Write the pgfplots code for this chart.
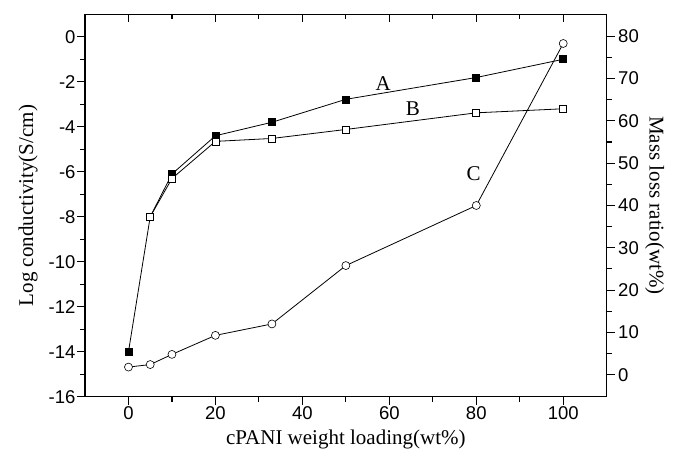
\documentclass[border=0pt]{standalone}
\usepackage{fontspec}
\setmainfont{Liberation Serif}
\newfontfamily\arial{Liberation Sans}
\usepackage{pgfplots}
\pgfplotsset{compat=1.18}

\newcommand\titlefont{\fontsize{21}{21}\selectfont}
\pgfplotsset{
  common/.style={
    scale only axis, width=521.7pt, height=382.4pt,
    xmin=-10, xmax=110,
    axis line style={-, line width=1.3pt},
    tick style={line width=1.1pt, black},
    major tick length=8pt, minor tick length=5pt,
    ticklabel style={font=\arial\fontsize{18.5}{18.5}\selectfont},
    /pgf/number format/assume math mode=true,
  },
}

\begin{document}
\begin{tikzpicture}
% left axis: conductivity (A, B)
\begin{axis}[common,
  axis x line*=bottom, axis y line*=left, tick align=outside,
  ymin=-16, ymax=1,
  xtick={0,20,...,100}, minor x tick num=1,
  ytick={-16,-14,...,0}, minor y tick num=1,
  xticklabel style={yshift=2pt},
  yticklabel style={xshift=2pt},
  xlabel={cPANI weight loading(wt\%)},
  ylabel={Log conductivity(S/cm)},
  every axis x label/.style={at={(axis description cs:0.5,0)}, anchor=center, yshift=-43pt, font=\titlefont},
  every axis y label/.style={at={(axis description cs:0,0.5)}, xshift=-57pt, rotate=90, anchor=center, font=\titlefont},
]
\coordinate (sw) at (rel axis cs:0,0);
\coordinate (ne) at (rel axis cs:1,1);
\addplot[black, line width=0.8pt, mark=square*, mark size=3.5pt, mark options={fill=black, line width=0.6pt}]
  coordinates {(0,-14) (5,-8) (10,-6.1) (20,-4.4) (33,-3.8) (50,-2.78) (80,-1.81) (100,-1.0)};
\addplot[black, line width=0.8pt, mark=square*, mark size=3.5pt, mark options={fill=white, line width=0.6pt}]
  coordinates {(5,-8) (10,-6.3) (20,-4.65) (33,-4.52) (50,-4.12) (80,-3.38) (100,-3.2)};
\node[font=\titlefont] at (axis cs:58.6,-2.07) {A};
\node[font=\titlefont] at (axis cs:65.4,-3.21) {B};
\node[font=\titlefont] at (axis cs:79.4,-6.07) {C};
\end{axis}
% right axis: mass loss ratio (C)
\begin{axis}[common,
  hide x axis, axis y line*=right, tick align=outside,
  ymin=-5.2, ymax=85.2,
  ytick={0,10,...,80}, minor y tick num=1,
  ylabel={Mass loss ratio(wt\%)},
  every axis y label/.style={at={(axis description cs:1,0.5)}, xshift=48pt, rotate=-90, anchor=center, font=\titlefont},
]
\addplot[black, line width=0.8pt, mark=*, mark size=4pt, mark options={fill=white, line width=0.6pt}]
  coordinates {(0,1.8) (5,2.4) (10,4.8) (20,9.3) (33,12.0) (50,25.8) (80,40.0) (100,78.3)};
\end{axis}
% top axis: inward ticks
\begin{axis}[common,
  hide y axis, axis x line*=top, tick align=inside,
  ymin=0, ymax=1,
  xtick={0,20,...,100}, minor x tick num=1, xticklabels={},
]
\end{axis}
\path ([shift={(-85pt,-62.3pt)}]sw) rectangle ([shift={(66.3pt,14.3pt)}]ne);
\end{tikzpicture}
\end{document}
